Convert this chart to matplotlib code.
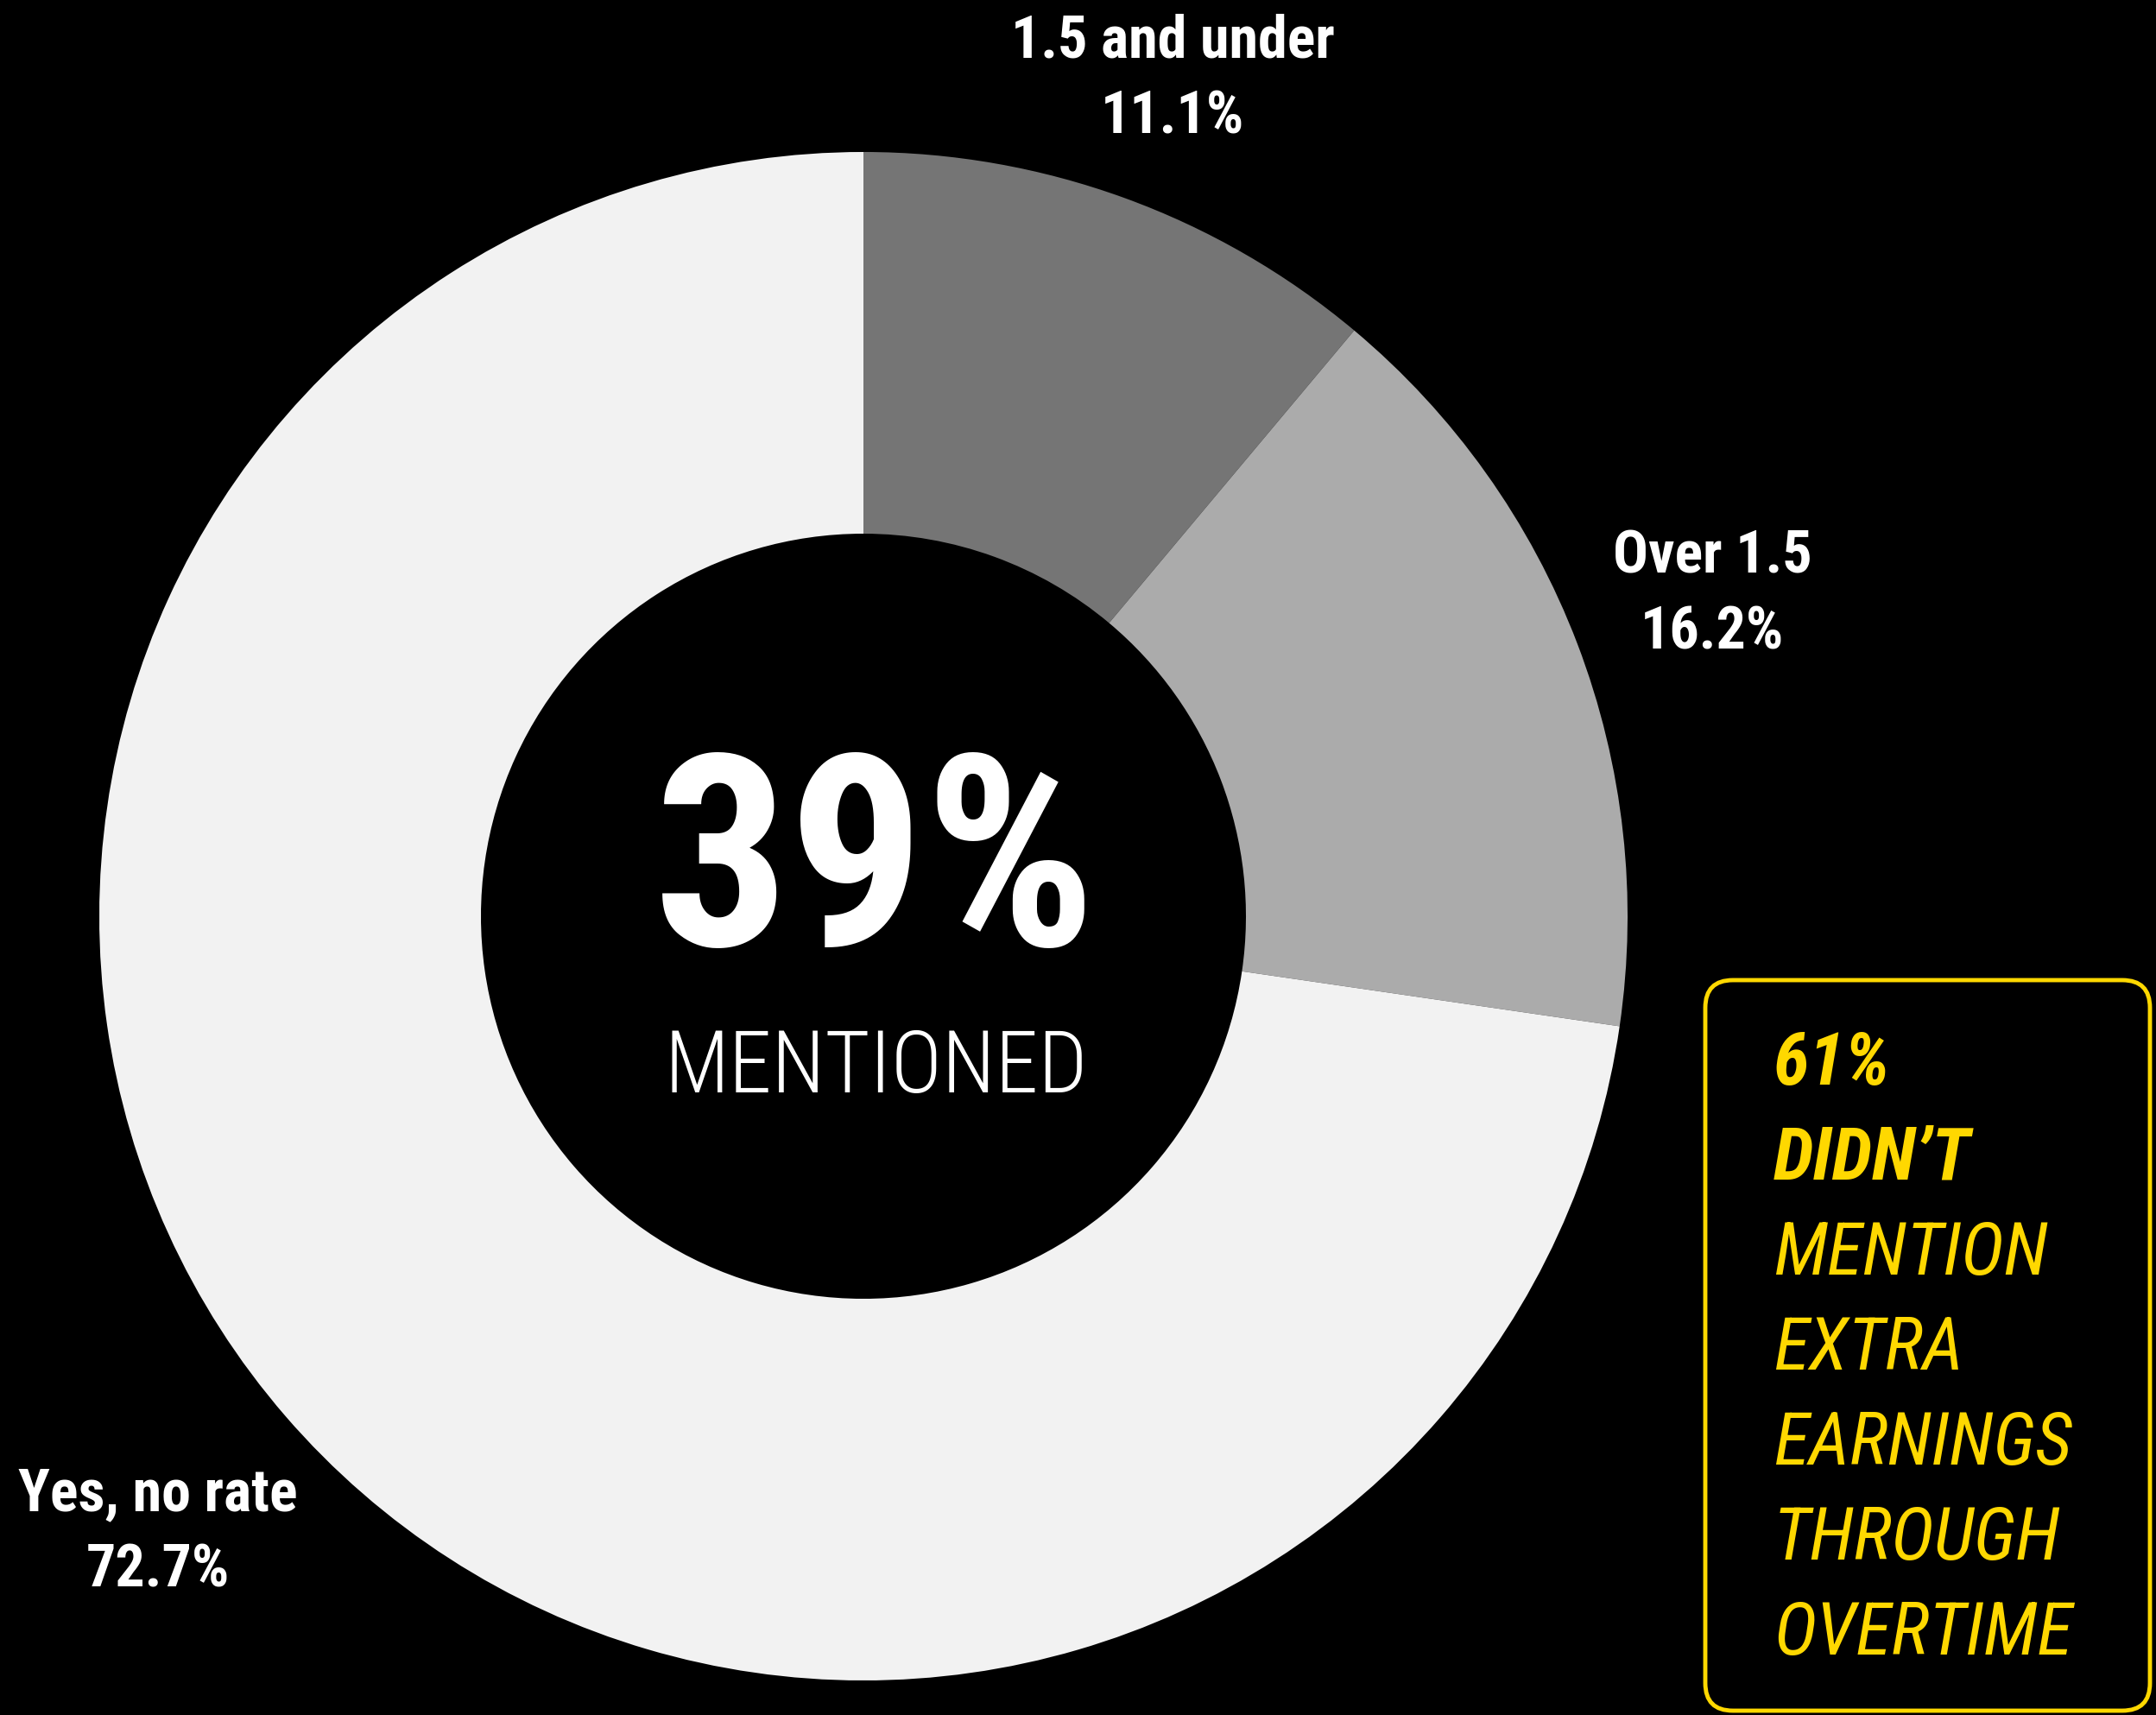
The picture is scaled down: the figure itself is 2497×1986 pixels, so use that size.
import matplotlib.pyplot as plt
from matplotlib.patches import FancyBboxPatch

# overtime mention breakdown (share of those who mentioned it)
labels = ["1.5 and under", "Over 1.5", "Yes, no rate"]
shares = [11.1, 16.2, 72.7]
colors = ["#757575", "#ababab", "#f2f2f2"]

mentioned_pct = 39
not_mentioned_pct = 61
callout_lines = ["MENTION", "EXTRA", "EARNINGS", "THROUGH", "OVERTIME"]

W, H = 2497, 1986
CX, CY = 1000, H - 1061
R_OUT, R_IN = 885, 443
YELLOW = "#ffd800"
COND = ["Roboto Condensed", "Roboto", "DejaVu Sans"]

fig = plt.figure(figsize=(W / 100, H / 100), dpi=100, facecolor="black")
ax = fig.add_axes([0, 0, 1, 1])
ax.set_facecolor("black")

ax.pie(
    shares,
    colors=colors,
    startangle=90,
    counterclock=False,
    center=(CX, CY),
    radius=R_OUT,
    frame=True,
    wedgeprops=dict(width=R_OUT - R_IN, linewidth=0),
)
ax.set_xlim(0, W)
ax.set_ylim(0, H)
ax.set_aspect("equal")
ax.axis("off")

# segment labels
label_pos = [(1358, H - 48), (1983, H - 645), (183, H - 1731)]
for (x, y), name, val in zip(label_pos, labels, shares):
    ax.text(x, y, name, color="white", fontsize=49, fontweight="bold",
            family=COND, ha="center", va="center")
    ax.text(x, y - 88, f"{val:.1f}%", color="white", fontsize=49,
            fontweight="bold", family=COND, ha="center", va="center")

# centre figure
ax.text(CX + 14, H - 1010, f"{mentioned_pct}%", color="white", fontsize=224,
        fontweight="bold", family=COND, ha="center", va="center")
ax.text(CX + 15, H - 1238, "MENTIONED", color="white", fontsize=72,
        fontweight="light", family=COND, ha="center", va="center")

# callout box on the right
box = FancyBboxPatch((1975, 5), 515, H - 1132 - 8,
                     boxstyle="round,pad=0,rounding_size=32",
                     facecolor="black", edgecolor=YELLOW, linewidth=3.5)
ax.add_patch(box)

x0, y0, step = 2054, H - 1233, 110
ax.text(x0, y0, f"{not_mentioned_pct}%", color=YELLOW, fontsize=61,
        fontweight="bold", style="italic", family=COND, va="center")
ax.text(x0, y0 - step, "DIDN\u2019T", color=YELLOW, fontsize=61,
        fontweight="bold", style="italic", family=COND, va="center")
for i, line in enumerate(callout_lines):
    ax.text(x0, y0 - step * (i + 2), line, color=YELLOW, fontsize=61,
            style="italic", family=COND, va="center")

fig.savefig("out.png", dpi=100, facecolor="black")
